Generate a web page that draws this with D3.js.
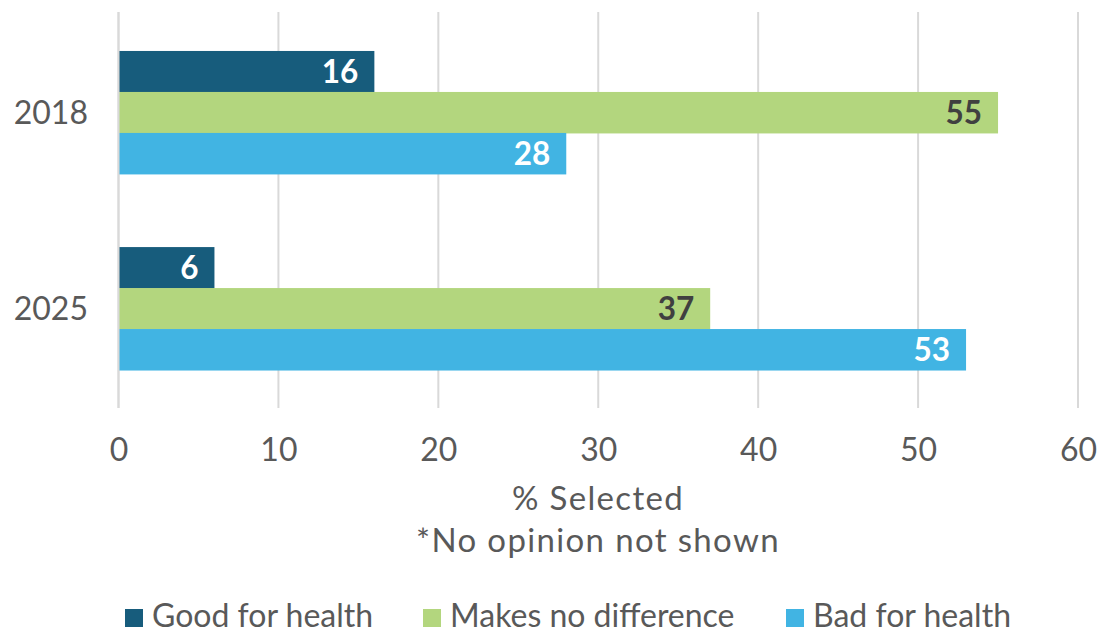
<!DOCTYPE html>
<html><head><meta charset="utf-8">
<script src="https://cdn.jsdelivr.net/npm/d3@7"></script>
<style>
body{margin:0;background:#fff;}
text{font-family:Lato,"Open Sans",sans-serif;}
</style></head>
<body><svg id="c" width="1104" height="634"></svg>
<script>
const categories = ["2018","2025"];
const seriesNames = ["Good for health","Makes no difference","Bad for health"];
const good = [16, 6];
const noDiff = [55, 37];
const bad = [28, 53];
const xTicks = [0,10,20,30,40,50,60];
const colors = ["#175C7C","#B3D67E","#41B4E3"];
const labelColors = ["#ffffff","#404040","#ffffff"];

const svg = d3.select("#c");
const x = d3.scaleLinear().domain([0,60]).range([118.5,1078]);
const y = d3.scaleBand().domain(categories).range([14.5,406.5]).paddingInner(0.373).paddingOuter(0.186);
const ySub = d3.scaleBand().domain(seriesNames).range([0,y.bandwidth()]);

// gridlines
svg.append("g").selectAll("line").data(xTicks).join("line")
  .attr("x1",d=>x(d)).attr("x2",d=>x(d)).attr("y1",12).attr("y2",408)
  .attr("stroke","#d9d9d9").attr("stroke-width",2);

const vals = [good,noDiff,bad];
seriesNames.forEach((s,si)=>{
  const g = svg.append("g");
  g.selectAll("rect").data(categories).join("rect")
    .attr("x",x(0)).attr("y",(c)=>y(c)+ySub(s))
    .attr("width",(c,i)=>x(vals[si][i])-x(0))
    .attr("height",ySub.bandwidth()+0.5)
    .attr("fill",colors[si]);
  g.selectAll("text").data(categories).join("text")
    .attr("x",(c,i)=>x(vals[si][i])-16)
    .attr("y",(c)=>y(c)+ySub(s)+ySub.bandwidth()/2)
    .attr("dy","0.36em").attr("text-anchor","end")
    .attr("font-size",31.5).attr("font-weight","bold")
    .attr("fill",labelColors[si])
    .text((c,i)=>vals[si][i]);
});

// y axis line
svg.append("line").attr("x1",x(0)).attr("x2",x(0)).attr("y1",12).attr("y2",408)
  .attr("stroke","#d9d9d9").attr("stroke-width",2);

// y labels
svg.append("g").selectAll("text").data(categories).join("text")
  .attr("x",88).attr("y",c=>y(c)+y.bandwidth()/2).attr("dy","0.36em")
  .attr("text-anchor","end").attr("font-size",32).attr("fill","#595959").text(c=>c);

// x axis via d3 axis
const xa = svg.append("g").attr("transform","translate(0,461)")
  .call(d3.axisBottom(x).tickValues(xTicks).tickSize(0).tickPadding(0));
xa.select(".domain").remove();
xa.selectAll("text").attr("font-size",32).attr("fill","#595959")
  .attr("font-family","Lato,'Open Sans',sans-serif").attr("dy","0");

// titles
svg.append("text").attr("x",598).attr("y",510).attr("text-anchor","middle")
  .attr("font-size",33).attr("letter-spacing",1.35).attr("fill","#595959").text("% Selected");
svg.append("text").attr("x",598).attr("y",552).attr("text-anchor","middle")
  .attr("font-size",33).attr("letter-spacing",1.35).attr("fill","#595959").text("*No opinion not shown");

// legend
const legX = [125,423,786];
seriesNames.forEach((s,i)=>{
  svg.append("rect").attr("x",legX[i]).attr("y",609).attr("width",18).attr("height",18).attr("fill",colors[i]);
  svg.append("text").attr("x",legX[i]+27).attr("y",627).attr("font-size",32)
    .attr("fill","#595959").text(s);
});
</script></body></html>
